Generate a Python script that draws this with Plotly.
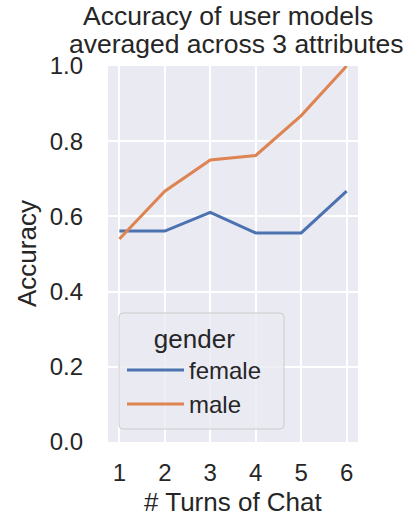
import plotly.graph_objects as go

turns = [1, 2, 3, 4, 5, 6]
female = [0.561, 0.561, 0.611, 0.556, 0.556, 0.667]
male = [0.54, 0.667, 0.75, 0.762, 0.868, 1.0]
y_ticks = [0.0, 0.2, 0.4, 0.6, 0.8, 1.0]
y_ticklabels = ["0.0", "0.2", "0.4", "0.6", "0.8", "1.0"]
title_lines = ["Accuracy of user models", "averaged across 3 attributes"]
x_title = "# Turns of Chat"
y_title = "Accuracy"

FONT = "Liberation Sans, Arial, sans-serif"
TXT = "#262626"
PL, PR, PT, PB = 108, 358, 66, 442
W, H = 412, 523


def px_x(x):
    return (x - PL) / (PR - PL)


def px_y(y):
    return (PB - y) / (PB - PT)


def rounded_rect(x0, y0, x1, y1, r):
    pts = [
        f"M{px_x(x0 + r)},{px_y(y0)}", f"L{px_x(x1 - r)},{px_y(y0)}",
        f"Q{px_x(x1)},{px_y(y0)} {px_x(x1)},{px_y(y0 + r)}",
        f"L{px_x(x1)},{px_y(y1 - r)}",
        f"Q{px_x(x1)},{px_y(y1)} {px_x(x1 - r)},{px_y(y1)}",
        f"L{px_x(x0 + r)},{px_y(y1)}",
        f"Q{px_x(x0)},{px_y(y1)} {px_x(x0)},{px_y(y1 - r)}",
        f"L{px_x(x0)},{px_y(y0 + r)}",
        f"Q{px_x(x0)},{px_y(y0)} {px_x(x0 + r)},{px_y(y0)}", "Z",
    ]
    return " ".join(pts)


fig = go.Figure()
fig.add_trace(go.Scatter(x=turns, y=female, mode="lines", name="female",
                         line=dict(color="#4C72B0", width=3)))
fig.add_trace(go.Scatter(x=turns, y=male, mode="lines", name="male",
                         line=dict(color="#DD8452", width=3)))

fig.update_layout(
    width=W, height=H,
    margin=dict(l=PL, r=W - PR, t=PT, b=H - PB, autoexpand=False),
    paper_bgcolor="white", plot_bgcolor="#EAEAF2",
    font=dict(family=FONT, size=24, color=TXT),
    showlegend=True,
    legend=dict(
        title=dict(text="gender", side="top center", font=dict(size=26)),
        x=px_x(122), y=px_y(314), xanchor="left", yanchor="top",
        bgcolor="rgba(0,0,0,0)", borderwidth=0,
        font=dict(size=24), itemwidth=57, tracegroupgap=0,
        entrywidth=100,
    ),
    shapes=[dict(type="path", xref="paper", yref="paper", layer="above",
                 path=rounded_rect(119, 313, 284, 429, 4),
                 fillcolor="rgba(234,234,242,0.8)",
                 line=dict(color="#CCCCCC", width=1))],
)
for txt, cx, cy in zip(title_lines, [228, 236], [16, 44]):
    fig.add_annotation(text=txt, x=px_x(cx), y=px_y(cy), xref="paper", yref="paper",
                       xanchor="center", yanchor="middle", showarrow=False,
                       font=dict(size=26.5, color=TXT))
fig.add_annotation(text=x_title, x=px_x(233), y=px_y(502), xref="paper", yref="paper",
                   xanchor="center", yanchor="middle", showarrow=False,
                   font=dict(size=26, color=TXT))
fig.add_annotation(text=y_title, x=px_x(27), y=px_y(254), xref="paper", yref="paper",
                   xanchor="center", yanchor="middle", showarrow=False, textangle=-90,
                   font=dict(size=26, color=TXT))

fig.update_xaxes(range=[0.75, 6.25], tickvals=turns, showgrid=True, gridcolor="white",
                 gridwidth=1.5, zeroline=False, showline=False, automargin=False,
                 ticks="", ticklabelstandoff=14, tickfont=dict(size=24))
fig.update_yaxes(range=[0, 1], tickvals=y_ticks, ticktext=y_ticklabels, showgrid=True,
                 gridcolor="white", gridwidth=1.5, zeroline=False, showline=False,
                 automargin=False, ticks="", ticklabelstandoff=24, tickfont=dict(size=24))

fig.write_html("out.html", config={"displayModeBar": False},
               post_script="document.body.style.margin='0';document.body.style.overflow='hidden';")
